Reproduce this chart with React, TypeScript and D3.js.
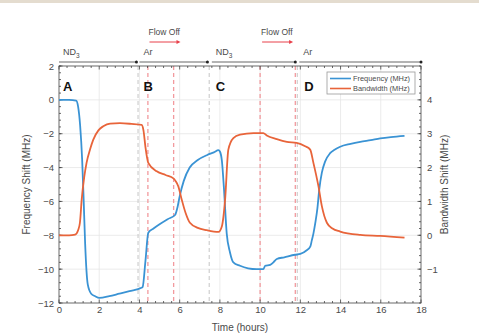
import { useEffect, useRef } from "react";
import * as d3 from "d3";

// frequency shift (MHz), left axis
const freqT = [0, 0.5, 0.85, 0.95, 1.05, 1.15, 1.22, 1.3, 1.43, 1.6, 1.8, 2.0, 2.5, 3.0, 3.5, 4.1, 4.16, 4.3, 4.44, 4.7, 5.0, 5.4, 5.77, 5.9, 6.0, 6.2, 6.5, 6.9, 7.35, 7.7, 7.93, 8.0, 8.1, 8.2, 8.34, 8.5, 8.67, 9.0, 9.4, 9.83, 10.16, 10.25, 10.5, 10.66, 10.83, 11.2, 11.74, 12.0, 12.3, 12.5, 12.57, 12.65, 12.74, 12.85, 12.94, 13.07, 13.23, 13.48, 13.7, 13.98, 14.5, 14.98, 15.5, 15.97, 16.5, 17.18];
const freqV = [0, 0, -0.05, -0.4, -1.5, -3.5, -5.7, -8.5, -10.9, -11.45, -11.6, -11.7, -11.6, -11.45, -11.3, -11.1, -11.05, -9.5, -7.85, -7.6, -7.35, -7.05, -6.8, -6.3, -5.7, -4.8, -4.0, -3.55, -3.27, -3.1, -2.97, -3.05, -3.6, -5.2, -7.9, -9.0, -9.6, -9.8, -9.95, -10.0, -10.0, -9.8, -9.75, -9.6, -9.4, -9.3, -9.15, -9.1, -8.9, -8.65, -8.3, -7.9, -7.3, -6.4, -5.3, -4.3, -3.65, -3.15, -2.95, -2.77, -2.6, -2.48, -2.38, -2.28, -2.2, -2.13];

// bandwidth shift (MHz), right axis
const bwT = [0, 0.5, 0.8, 0.95, 1.04, 1.13, 1.25, 1.37, 1.55, 1.7, 1.96, 2.2, 2.54, 3.03, 3.6, 4.11, 4.2, 4.3, 4.44, 4.86, 5.3, 5.69, 5.8, 5.93, 6.1, 6.3, 6.51, 6.9, 7.35, 7.93, 8.1, 8.26, 8.42, 8.67, 9.0, 9.67, 10.16, 10.33, 10.83, 11.33, 11.82, 12.24, 12.49, 12.65, 12.9, 13.07, 13.32, 13.6, 13.98, 14.98, 15.97, 17.18];
const bwV = [0, 0, 0.02, 0.15, 0.37, 1.06, 1.7, 2.14, 2.55, 2.82, 3.1, 3.22, 3.3, 3.31, 3.29, 3.26, 3.1, 2.6, 2.14, 1.89, 1.78, 1.68, 1.6, 1.45, 1.06, 0.65, 0.37, 0.22, 0.15, 0.1, 0.27, 1.06, 2.53, 2.87, 2.97, 3.02, 3.02, 2.95, 2.84, 2.76, 2.73, 2.63, 2.53, 2.14, 1.45, 0.86, 0.37, 0.2, 0.11, 0.01, -0.02, -0.07];

const xTicks = [0, 2, 4, 6, 8, 10, 12, 14, 16, 18];
const yLeftTicks = [-12, -10, -8, -6, -4, -2, 0, 2];
const yRightTicks = [-1, 0, 1, 2, 3, 4];

// event markers (hours)
const grayLines = [3.93, 7.47, 11.85];
const redLines = [4.42, 5.7, 10.0, 11.75];
const phaseStart = [0, 4.0, 7.6, 11.95];
const phaseEnd = [3.85, 7.38, 11.75, 18];
const phaseLabel = ["ND", "Ar", "ND", "Ar"];
const phaseSub = ["3", "", "3", ""];
const flowOff = [4.45, 10.05];
const stageLabels = ["A", "B", "C", "D"];
const stageT = [0.2, 4.2, 7.8, 12.2];

export default function App() {
  const ref = useRef<SVGSVGElement>(null);

  useEffect(() => {
    const svg = d3.select(ref.current);
    svg.selectAll("*").remove();

    const L = 59, R = 421, T = 66, B = 303;
    const x = d3.scaleLinear().domain([0, 18]).range([L, R]);
    const yL = d3.scaleLinear().domain([-12, 2]).range([B, T]);
    const yR = d3.scaleLinear().domain([-2, 5]).range([B, T]);
    const font = "'Liberation Sans', Arial, sans-serif";
    const txt = "#4a4a4a";

    svg.append("rect").attr("x", 0).attr("y", 0).attr("width", 479).attr("height", 3).attr("fill", "#e4dccf");

    // grid
    const grid = svg.append("g").attr("stroke", "#e6e6e6").attr("stroke-width", 0.8);
    xTicks.slice(1, -1).forEach(t => grid.append("line").attr("x1", x(t)).attr("x2", x(t)).attr("y1", T).attr("y2", B));
    yLeftTicks.slice(1, -1).forEach(t => grid.append("line").attr("x1", L).attr("x2", R).attr("y1", yL(t)).attr("y2", yL(t)));

    // event lines
    grayLines.forEach(t => svg.append("line").attr("x1", x(t)).attr("x2", x(t)).attr("y1", T).attr("y2", B)
      .attr("stroke", "#cfcfcf").attr("stroke-width", 1.2).attr("stroke-dasharray", "4,3"));
    redLines.forEach(t => svg.append("line").attr("x1", x(t)).attr("x2", x(t)).attr("y1", T).attr("y2", B)
      .attr("stroke", "#f29a9e").attr("stroke-width", 1.3).attr("stroke-dasharray", "4,3"));

    // axes
    const ax = svg.append("g").attr("font-family", font).attr("font-size", 9.5).attr("fill", txt);
    const gx = svg.append("g").attr("transform", `translate(0,${B})`)
      .call(d3.axisBottom(x).tickValues(xTicks).tickSize(0).tickPadding(3).tickFormat(d3.format("d")));
    gx.select(".domain").remove();
    gx.selectAll("text").attr("font-family", font).attr("font-size", 9.5).attr("fill", txt);
    const gl = svg.append("g").attr("transform", `translate(${L},0)`)
      .call(d3.axisLeft(yL).tickValues(yLeftTicks).tickSize(0).tickPadding(5).tickFormat(d3.format("d")));
    gl.select(".domain").remove();
    gl.selectAll("text").attr("font-family", font).attr("font-size", 9.5).attr("fill", txt);
    const gr = svg.append("g").attr("transform", `translate(${R},0)`)
      .call(d3.axisRight(yR).tickValues(yRightTicks).tickSize(0).tickPadding(6).tickFormat(d3.format("d")));
    gr.select(".domain").remove();
    gr.selectAll("text").attr("font-family", font).attr("font-size", 9.5).attr("fill", txt);

    // box and ticks
    const tk = svg.append("g").attr("stroke", "#444").attr("stroke-width", 0.8);
    tk.append("rect").attr("x", L).attr("y", T).attr("width", R - L).attr("height", B - T).attr("fill", "none");
    d3.range(0, 18.01, 0.4).forEach(t => {
      const major = xTicks.includes(Math.round(t * 10) / 10);
      const s = major ? 3.5 : 2;
      tk.append("line").attr("x1", x(t)).attr("x2", x(t)).attr("y1", B).attr("y2", B - s);
      tk.append("line").attr("x1", x(t)).attr("x2", x(t)).attr("y1", T).attr("y2", T + s);
    });
    d3.range(-12, 2.01, 0.4).forEach(v => {
      tk.append("line").attr("x1", L).attr("x2", L + 2).attr("y1", yL(v)).attr("y2", yL(v));
    });
    yLeftTicks.forEach(v => tk.append("line").attr("x1", L).attr("x2", L + 3.5).attr("y1", yL(v)).attr("y2", yL(v)));
    d3.range(-2, 5.01, 0.2).forEach(v => {
      tk.append("line").attr("x1", R).attr("x2", R - 2).attr("y1", yR(v)).attr("y2", yR(v));
    });
    yRightTicks.forEach(v => tk.append("line").attr("x1", R).attr("x2", R - 3.5).attr("y1", yR(v)).attr("y2", yR(v)));

    // series
    const lineF = d3.line<number>().x((_, i) => x(freqT[i])).y(d => yL(d)).curve(d3.curveMonotoneX);
    const lineB = d3.line<number>().x((_, i) => x(bwT[i])).y(d => yR(d)).curve(d3.curveMonotoneX);
    svg.append("path").attr("d", lineF(freqV)).attr("fill", "none").attr("stroke", "#3a93d4").attr("stroke-width", 1.8);
    svg.append("path").attr("d", lineB(bwV)).attr("fill", "none").attr("stroke", "#e8643a").attr("stroke-width", 1.8);

    // stage letters
    stageLabels.forEach((s, i) => svg.append("text").attr("x", x(stageT[i])).attr("y", 91)
      .attr("font-family", font).attr("font-weight", "bold").attr("font-size", 13).attr("fill", "#111").text(s));

    // phase timeline
    const tl = svg.append("g");
    phaseStart.forEach((s, i) => {
      tl.append("line").attr("x1", x(s)).attr("x2", x(phaseEnd[i])).attr("y1", 62).attr("y2", 62)
        .attr("stroke", "#9a9a9a").attr("stroke-width", 1.5);
      tl.append("circle").attr("cx", x(phaseEnd[i])).attr("cy", 62).attr("r", 1.5).attr("fill", "#222");
      const t = tl.append("text").attr("x", x(s) + 4).attr("y", 55)
        .attr("font-family", font).attr("font-size", 9).attr("fill", txt).text(phaseLabel[i]);
      if (phaseSub[i]) t.append("tspan").attr("font-size", 6.5).attr("dy", 3).text(phaseSub[i]);
    });

    // flow off annotations
    flowOff.forEach(t => {
      svg.append("text").attr("x", x(t)).attr("y", 35).attr("font-family", font).attr("font-size", 8.5)
        .attr("fill", txt).text("Flow Off");
      svg.append("line").attr("x1", x(t) + 1).attr("x2", x(t) + 30).attr("y1", 42).attr("y2", 42)
        .attr("stroke", "#e8404a").attr("stroke-width", 1);
      svg.append("path").attr("d", `M${x(t) + 32},42 l-4,-2 v4 z`).attr("fill", "#e8404a");
    });

    // legend
    const lg = svg.append("g");
    lg.append("rect").attr("x", 327).attr("y", 72).attr("width", 88).attr("height", 22)
      .attr("fill", "#fff").attr("stroke", "#999").attr("stroke-width", 0.8);
    [["Frequency (MHz)", "#3a93d4"], ["Bandwidth (MHz)", "#e8643a"]].forEach(([name, c], i) => {
      const yy = 78.5 + i * 10;
      lg.append("line").attr("x1", 330).attr("x2", 351).attr("y1", yy).attr("y2", yy).attr("stroke", c).attr("stroke-width", 1.6);
      lg.append("text").attr("x", 353).attr("y", yy + 2.6).attr("font-family", font).attr("font-size", 7.4)
        .attr("fill", txt).text(name);
    });

    // axis titles
    ax.append("text").attr("transform", `translate(30,${(T + B) / 2}) rotate(-90)`).attr("text-anchor", "middle")
      .attr("font-size", 10).text("Frequency Shift (MHz)");
    ax.append("text").attr("transform", `translate(448,${(T + B) / 2}) rotate(-90)`).attr("text-anchor", "middle")
      .attr("font-size", 10).text("Bandwidth Shift (MHz)");
    ax.append("text").attr("x", (L + R) / 2).attr("y", 331).attr("text-anchor", "middle")
      .attr("font-size", 10).text("Time (hours)");
  }, []);

  return (
    <svg ref={ref} width={479} height={334} style={{ position: "absolute", left: 0, top: 0, background: "#fff" }} />
  );
}
